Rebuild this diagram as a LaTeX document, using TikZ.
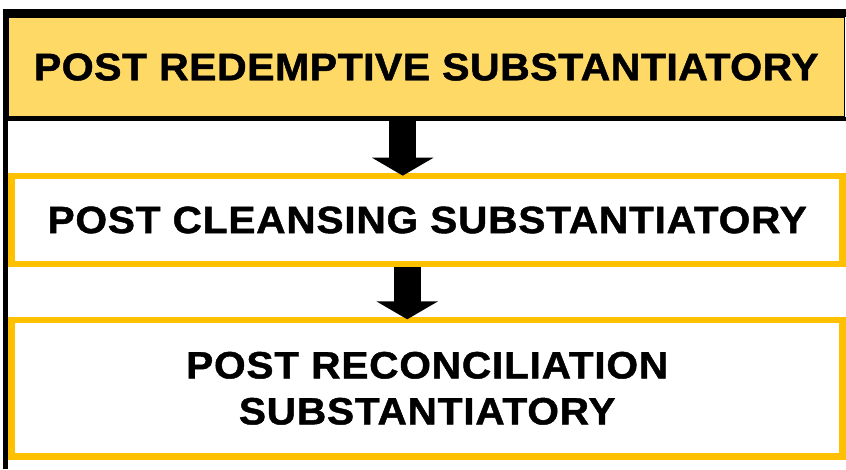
\documentclass[tikz,border=0pt]{standalone}
\usepackage{fontspec}
\usepackage{xcolor}
\usepackage{tikz}
\usetikzlibrary{arrows.meta}

\newfontfamily\boxfont[FakeStretch=1.07,LetterSpace=1,BoldFeatures={FakeBold=1.2}]{Liberation Sans}
\definecolor{headyellow}{HTML}{FFD966}
\definecolor{boxgold}{HTML}{FFC000}

\tikzset{
  headbox/.style={fill=headyellow,draw=black,line width=1.5pt,minimum width=836.5pt,minimum height=100pt,inner sep=0pt,
    font=\boxfont\bfseries\fontsize{38.5}{46}\selectfont},
  stagebox/.style={draw=boxgold,line width=6.7pt,minimum width=831pt,inner sep=0pt,align=center,
    font=\boxfont\bfseries\fontsize{38}{46}\selectfont\addfontfeature{LetterSpace=2}},
  blockarrow/.style={line width=27pt,-{Triangle[width=61pt,length=18pt]}}
}

\begin{document}
\begin{tikzpicture}[x=1pt,y=-1pt]
\useasboundingbox (0,0) rectangle (846,469);

% Boxes
\node[headbox] (redemptive) at (426.25,67) {POST REDEMPTIVE SUBSTANTIATORY};
\node[stagebox,minimum height=88pt] (cleansing) at (427.2,220) {POST CLEANSING SUBSTANTIATORY};
\node[stagebox,minimum height=136.7pt] (reconciliation) at (427.2,388.3) {POST RECONCILIATION\\SUBSTANTIATORY};

% Heavy edges of the top box and the rule down the left side
\fill[black] (3,9) rectangle (846,17);
\fill[black] (3,117) rectangle (846,121);
\fill[black] (3,9) rectangle (8,469);

% Arrows
\draw[blockarrow,shorten >=-3pt] ([xshift=-23.5pt]redemptive.south) -- ([xshift=-23.5pt]redemptive.south |- cleansing.north);
\draw[blockarrow,shorten >=-2.7pt] ([xshift=-20pt]cleansing.south) -- ([xshift=-20pt]cleansing.south |- reconciliation.north);
\end{tikzpicture}
\end{document}
